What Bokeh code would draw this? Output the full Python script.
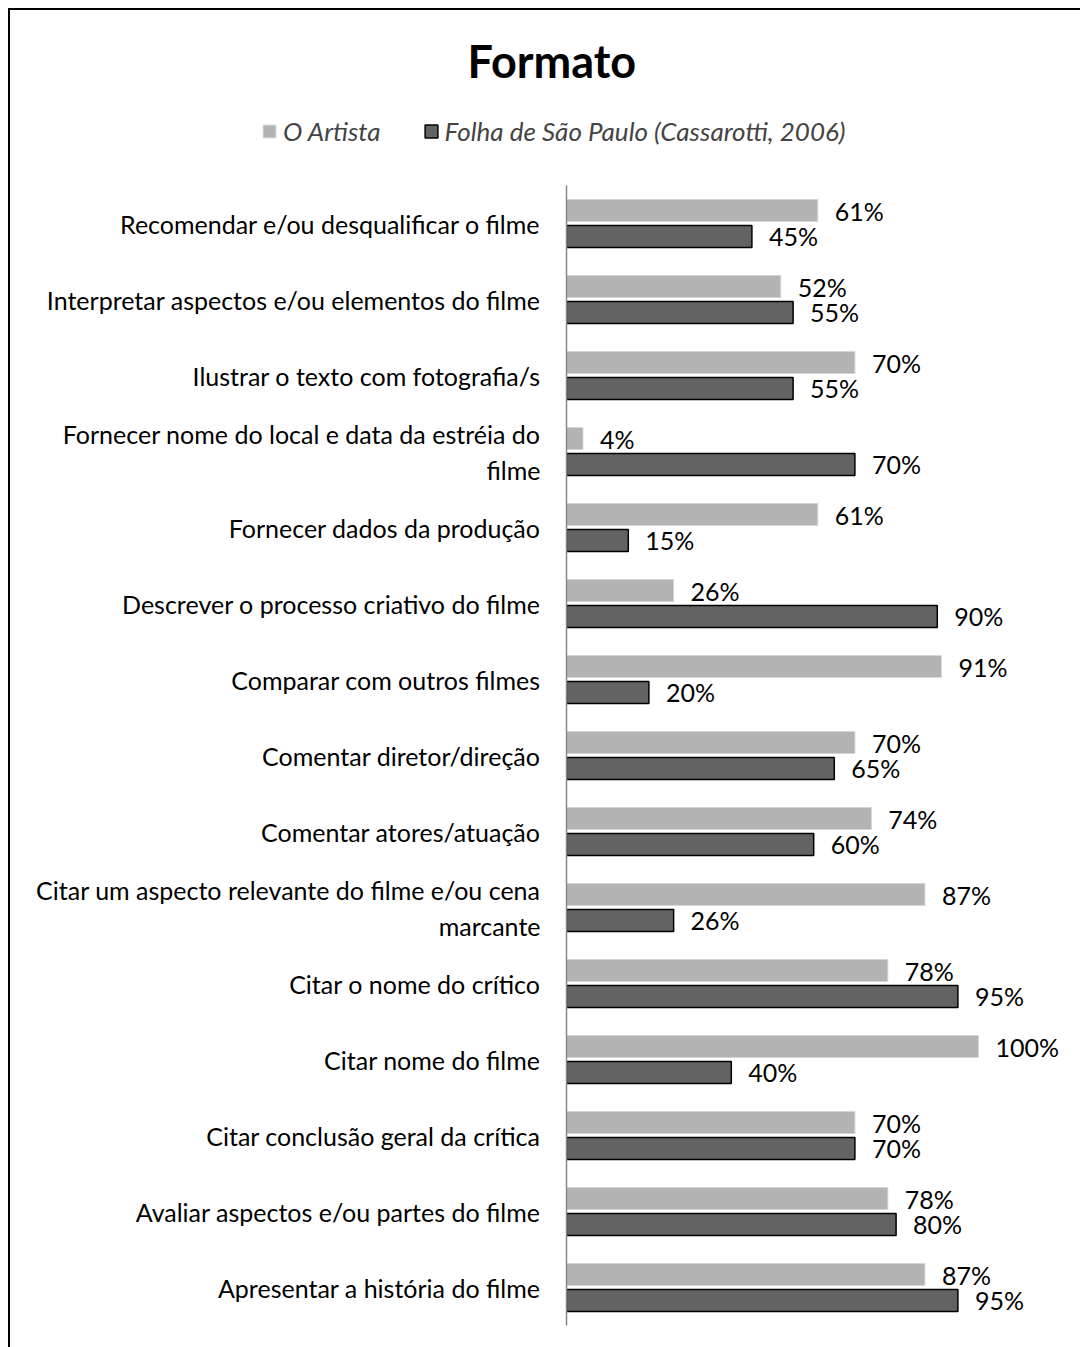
from bokeh.plotting import figure
from bokeh.layouts import column
from bokeh.models import (ColumnDataSource, FactorRange, Range1d, Legend, LegendItem,
                          LabelSet)
from bokeh.transform import dodge
from bokeh.core.properties import value
from bokeh.embed import file_html
from bokeh.resources import INLINE

title_text = "Formato"
series_names = ["O Artista", "Folha de São Paulo (Cassarotti, 2006)"]
categories = [
    "Recomendar e/ou desqualificar o filme",
    "Interpretar aspectos e/ou elementos do filme",
    "Ilustrar o texto com fotografia/s",
    "Fornecer nome do local e data da estréia do\nfilme",
    "Fornecer dados da produção",
    "Descrever o processo criativo do filme",
    "Comparar com outros filmes",
    "Comentar diretor/direção",
    "Comentar atores/atuação",
    "Citar um aspecto relevante do filme e/ou cena\nmarcante",
    "Citar o nome do crítico",
    "Citar nome do filme",
    "Citar conclusão geral da crítica",
    "Avaliar aspectos e/ou partes do filme",
    "Apresentar a história do filme",
]
o_artista = [61, 52, 70, 4, 61, 26, 91, 70, 74, 87, 78, 100, 70, 78, 87]
folha = [45, 55, 55, 70, 15, 90, 20, 65, 60, 26, 95, 40, 70, 80, 95]

FONT = "Lato"
LBL = "25px"
GRAY_FILL, GRAY_LINE = "#b3b3b3", "#d6d6d6"
DARK_FILL, DARK_LINE = "#636363", "black"

src = ColumnDataSource(dict(
    cat=categories, artista=o_artista, folha=folha,
    artista_lbl=[f"{v}%" for v in o_artista],
    folha_lbl=[f"{v}%" for v in folha],
))

# ---------- header: title + legend ----------
head = figure(width=1070, height=175, x_range=Range1d(0, 1), y_range=Range1d(0, 1),
              output_backend="svg", toolbar_location=None,
              x_axis_location=None, y_axis_location=None,
              min_border_left=0, min_border_right=0, min_border_top=0, min_border_bottom=0,
              title=title_text)
head.frame_align = False
head.title.text_font = FONT
head.title.text_font_size = "45px"
head.title.text_font_style = "bold"
head.title.text_color = "black"
head.title.align = "left"
head.title.offset = 457
head.title.standoff = 43
head.grid.grid_line_color = None
head.outline_line_color = None

# legend-only swatch renderers (kept outside the visible range of the header)
swatch = ColumnDataSource(dict(y=[-10], right=[0]))
g1 = head.hbar(y="y", right="right", left=0, height=0.1, source=swatch,
               fill_color=GRAY_FILL, line_color=GRAY_LINE, line_width=1)
g2 = head.hbar(y="y", right="right", left=0, height=0.1, source=swatch,
               fill_color=DARK_FILL, line_color=DARK_LINE, line_width=1.5)
legend = Legend(items=[LegendItem(label=series_names[0], renderers=[g1]),
                       LegendItem(label=series_names[1], renderers=[g2])],
                orientation="horizontal", location=(251, 38),
                padding=0, margin=0, spacing=42, label_standoff=6,
                glyph_width=16, glyph_height=16, label_height=30,
                label_text_font=FONT, label_text_font_size="26px",
                label_text_font_style="italic",
                border_line_color=None, background_fill_alpha=0)
head.add_layout(legend)

# ---------- main bar chart ----------
p = figure(width=1070, height=1162,
           y_range=FactorRange(factors=list(reversed(categories))),
           x_range=Range1d(0, 124.76),
           output_backend="svg", toolbar_location=None,
           x_axis_location=None,
           min_border_left=556, min_border_right=0,
           min_border_top=0, min_border_bottom=22)
p.frame_align = False

OFF = 0.171
H = 0.29
p.hbar(y=dodge("cat", OFF, range=p.y_range), right="artista", left=0, height=H,
       source=src, fill_color=GRAY_FILL, line_color=GRAY_LINE, line_width=1)
p.hbar(y=dodge("cat", -OFF, range=p.y_range), right="folha", left=0, height=H,
       source=src, fill_color=DARK_FILL, line_color=DARK_LINE, line_width=1.5)

for col, lcol, off in (("artista", "artista_lbl", OFF), ("folha", "folha_lbl", -OFF)):
    p.add_layout(LabelSet(x=col, y=dodge("cat", off, range=p.y_range), text=lcol, source=src,
                          x_offset=17, text_baseline="middle", text_align="left",
                          text_font=value(FONT), text_font_size=value(LBL),
                          text_color="black"))

p.yaxis.axis_line_color = "#888888"
p.yaxis.axis_line_width = 1.5
p.yaxis.major_tick_line_color = None
p.yaxis.major_tick_in = 0
p.yaxis.major_tick_out = 0
p.yaxis.minor_tick_line_color = None
p.yaxis.major_label_text_font = FONT
p.yaxis.major_label_text_font_size = LBL
p.yaxis.major_label_text_color = "black"
p.yaxis.major_label_standoff = 26
p.ygrid.grid_line_color = None
p.xgrid.grid_line_color = None
p.outline_line_color = None

layout = column(head, p, spacing=0)
layout.styles = {"margin-left": "8px", "margin-top": "8px",
                 "border-left": "2px solid black", "border-top": "2px solid black"}

open("out.html", "w").write(file_html(layout, INLINE))
